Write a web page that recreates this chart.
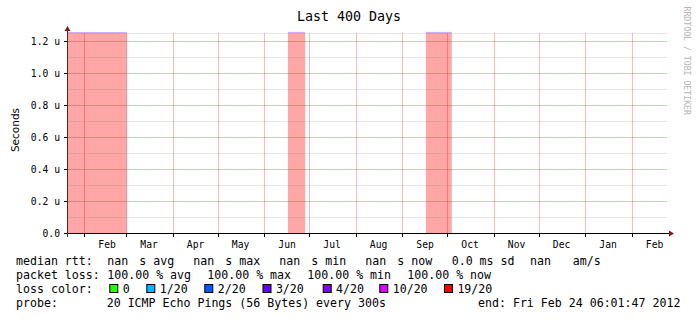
<!DOCTYPE html>
<html>
<head>
<meta charset="utf-8">
<script src="https://cdn.jsdelivr.net/npm/d3@7"></script>
<style>
  body { margin: 0; background: #fff; }
  svg { display: block; }
  text { font-family: "DejaVu Sans Mono", monospace; fill: #000; }
  .tick-label { font-size: 9.7px; }
  .legend { font-size: 11.6px; }
</style>
</head>
<body>
<div id="wrapper"></div>
<script>
// data
const spanDays = 400;
const endTime = new Date(2012, 1, 24, 6, 1, 47);
const lossStarts = ["2011-01-20T06:01:47", "2011-06-16T12:00", "2011-09-16T12:00"];
const lossEnds = ["2011-03-01T00:00", "2011-06-28T00:00", "2011-10-03T18:00"];
const lossValues = [1.25, 1.25, 1.25]; // in u (microseconds), full height band
const yTicks = [0, 0.2, 0.4, 0.6, 0.8, 1.0, 1.2];
const yMinorTicks = [0.1, 0.3, 0.5, 0.7, 0.9, 1.1, 1.25];
const rttStats = ["avg", "max", "min", "now"];
const rttValues = ["nan", "nan", "nan", "nan"];
const lossStats = ["avg", "max", "min", "now"];
const lossPercents = [100, 100, 100, 100];
const lossColorLabels = ["0", "1/20", "2/20", "3/20", "4/20", "10/20", "19/20"];
const lossColors = ["#26ff00", "#00b8ff", "#0059ff", "#5e00ff", "#7e00ff", "#dd00ff", "#ff0000"];
const probeText = "20 ICMP Echo Pings (56 Bytes) every 300s";

function drawChart() {
  //* Step 1. Access data
  const parse = d3.isoParse;
  const startTime = d3.timeDay.offset(endTime, -spanDays);
  const lossData = lossStarts.map((s, i) => ({
    start: i === 0 ? startTime : new Date(s),
    end: new Date(lossEnds[i]),
    value: lossValues[i],
  }));

  //* Step 2. Dimensions
  const dimensions = {
    width: 697,
    height: 321,
    margin: { top: 33, left: 67 },
    boundedWidth: 600,
    boundedHeight: 200,
  };

  //* Step 3. Draw canvas
  const wrapper = d3
    .select("#wrapper")
    .append("svg")
    .attr("width", dimensions.width)
    .attr("height", dimensions.height);

  //* Step 4. Scales
  const xScale = d3
    .scaleTime()
    .domain([startTime, endTime])
    .range([dimensions.margin.left, dimensions.margin.left + dimensions.boundedWidth]);

  const yScale = d3
    .scaleLinear()
    .domain([0, 1.25])
    .range([dimensions.margin.top + dimensions.boundedHeight, dimensions.margin.top]);

  const x0 = xScale.range()[0];
  const x1 = xScale.range()[1];
  const yBottom = yScale(0);

  //* Step 5. Data
  const dataGroup = wrapper.append("g");
  dataGroup
    .selectAll("rect")
    .data(lossData)
    .join("rect")
    .attr("x", (d) => xScale(d.start))
    .attr("width", (d) => xScale(d.end) - xScale(d.start))
    .attr("y", (d) => yScale(d.value))
    .attr("height", (d) => yBottom - yScale(d.value))
    .attr("fill", "#ffa6a6");
  dataGroup
    .selectAll("line")
    .data(lossData)
    .join("line")
    .attr("x1", (d) => xScale(d.start))
    .attr("x2", (d) => xScale(d.end))
    .attr("y1", (d) => yScale(d.value) - 0.5)
    .attr("y2", (d) => yScale(d.value) - 0.5)
    .attr("stroke", "#cfadf2")
    .attr("stroke-width", 1.2);

  //* Step 6. Grid (drawn over the data, like rrdtool)
  const grid = wrapper.append("g").attr("shape-rendering", "crispEdges");
  grid
    .selectAll(".minor")
    .data(yMinorTicks)
    .join("line")
    .attr("x1", x0)
    .attr("x2", x1)
    .attr("y1", (d) => Math.round(yScale(d)) + 0.5)
    .attr("y2", (d) => Math.round(yScale(d)) + 0.5)
    .attr("stroke", "rgba(128,128,128,0.2)");
  grid
    .selectAll(".major")
    .data(yTicks.filter((d) => d > 0))
    .join("line")
    .attr("x1", x0)
    .attr("x2", x1)
    .attr("y1", (d) => Math.round(yScale(d)) + 0.5)
    .attr("y2", (d) => Math.round(yScale(d)) + 0.5)
    .attr("stroke", "rgba(230,0,0,0.27)");

  const months = d3.timeMonth.range(startTime, endTime);
  grid
    .selectAll(".vline")
    .data(months)
    .join("line")
    .attr("x1", (d) => Math.floor(xScale(d)) + 0.5)
    .attr("x2", (d) => Math.floor(xScale(d)) + 0.5)
    .attr("y1", yScale.range()[1])
    .attr("y2", yBottom + 3)
    .attr("stroke", "rgba(230,0,0,0.27)");

  //* Step 7. Axes
  const axes = wrapper.append("g").attr("shape-rendering", "crispEdges");
  axes
    .append("line")
    .attr("x1", x0 - 3)
    .attr("x2", x1 + 3)
    .attr("y1", yBottom + 0.5)
    .attr("y2", yBottom + 0.5)
    .attr("stroke", "#000");
  axes
    .append("line")
    .attr("x1", x0 + 0.5)
    .attr("x2", x0 + 0.5)
    .attr("y1", yBottom + 4)
    .attr("y2", yScale.range()[1] - 3)
    .attr("stroke", "#3a2a2a");
  axes
    .selectAll(".xtick")
    .data(months)
    .join("line")
    .attr("x1", (d) => Math.floor(xScale(d)) + 0.5)
    .attr("x2", (d) => Math.floor(xScale(d)) + 0.5)
    .attr("y1", yBottom)
    .attr("y2", yBottom + 4)
    .attr("stroke", "#000");
  axes
    .selectAll(".ytick")
    .data(yTicks)
    .join("line")
    .attr("x1", x0 - 3)
    .attr("x2", x0)
    .attr("y1", (d) => Math.round(yScale(d)) + 0.5)
    .attr("y2", (d) => Math.round(yScale(d)) + 0.5)
    .attr("stroke", "#000");

  // arrows
  wrapper
    .append("path")
    .attr("d", `M${x1 + 2},${yBottom - 2.5}L${x1 + 7},${yBottom + 0.5}L${x1 + 2},${yBottom + 3.5}Z`)
    .attr("fill", "#8b1414");
  const yTop = yScale.range()[1];
  wrapper
    .append("path")
    .attr("d", `M${x0 - 2.5},${yTop - 2}L${x0 + 0.5},${yTop - 7}L${x0 + 3.5},${yTop - 2}Z`)
    .attr("fill", "#8b1414");

  // tick labels
  wrapper
    .selectAll(".ylabel")
    .data(yTicks)
    .join("text")
    .attr("class", "tick-label")
    .attr("x", 60)
    .attr("y", (d) => yScale(d) + 3.5)
    .attr("text-anchor", "end")
    .text((d) => (d === 0 ? "0.0" : `${d3.format(".1f")(d)} u`));

  const labelDates = d3.timeMonth
    .range(d3.timeMonth.floor(startTime), endTime)
    .map((m) => d3.timeDay.offset(m, 15))
    .filter((d) => d > startTime && d < endTime);
  wrapper
    .selectAll(".xlabel")
    .data(labelDates)
    .join("text")
    .attr("class", "tick-label")
    .attr("x", (d) => xScale(d))
    .attr("y", 248)
    .attr("text-anchor", "middle")
    .text((d) => d3.timeFormat("%b")(d));

  //* Step 8. Titles
  wrapper
    .append("text")
    .attr("x", 349)
    .attr("y", 20.5)
    .attr("text-anchor", "middle")
    .style("font-size", "13.3px")
    .text(`Last ${spanDays} Days`);

  wrapper
    .append("text")
    .attr("transform", `translate(18.5, 130) rotate(-90)`)
    .attr("text-anchor", "middle")
    .style("font-family", "'DejaVu Sans', sans-serif")
    .style("font-size", "10.5px")
    .text("Seconds");

  wrapper
    .append("text")
    .attr("transform", `translate(684, 6.5) rotate(90)`)
    .style("font-size", "8.2px")
    .style("fill", "#b4b4b4")
    .text("RRDTOOL / TOBI OETIKER");

  //* Step 9. Legend
  const legend = wrapper.append("g").attr("class", "legend");
  const lineY = [265, 279, 293, 307];

  legend.append("text").attr("x", 16).attr("y", lineY[0]).text("median rtt:");
  rttStats.forEach((stat, i) => {
    const vx = 107.3 + 86 * i;
    legend.append("text").attr("x", vx).attr("y", lineY[0]).text(rttValues[i]);
    legend.append("text").attr("x", vx + 32).attr("y", lineY[0]).text(`s ${stat}`);
  });
  legend.append("text").attr("x", 451.7).attr("y", lineY[0]).text("0.0 ms sd");
  legend.append("text").attr("x", 530).attr("y", lineY[0]).text("nan");
  legend.append("text").attr("x", 572.7).attr("y", lineY[0]).text("am/s");

  legend.append("text").attr("x", 16).attr("y", lineY[1]).text("packet loss:");
  lossStats.forEach((stat, i) => {
    legend
      .append("text")
      .attr("x", 107.3 + 100 * i)
      .attr("y", lineY[1])
      .text(`${d3.format(".2f")(lossPercents[i])} % ${stat}`);
  });

  legend.append("text").attr("x", 16).attr("y", lineY[2]).text("loss color:");
  const swatchX = [109.3, 146.3, 204.3, 262.5, 322.7, 379.3, 444];
  lossColorLabels.forEach((label, i) => {
    legend
      .append("rect")
      .attr("x", swatchX[i] + 0.5)
      .attr("y", 284.5)
      .attr("width", 8)
      .attr("height", 8)
      .attr("fill", lossColors[i])
      .attr("stroke", "#000");
    legend
      .append("text")
      .attr("x", swatchX[i] + 13.4)
      .attr("y", lineY[2])
      .text(label);
  });

  legend.append("text").attr("x", 16).attr("y", lineY[3]).text("probe:");
  legend.append("text").attr("x", 106.7).attr("y", lineY[3]).text(probeText);
  legend
    .append("text")
    .attr("x", 478)
    .attr("y", lineY[3])
    .text(`end: ${d3.timeFormat("%a %b %d %H:%M:%S %Y")(endTime)}`);
}

drawChart();
</script>
</body>
</html>
